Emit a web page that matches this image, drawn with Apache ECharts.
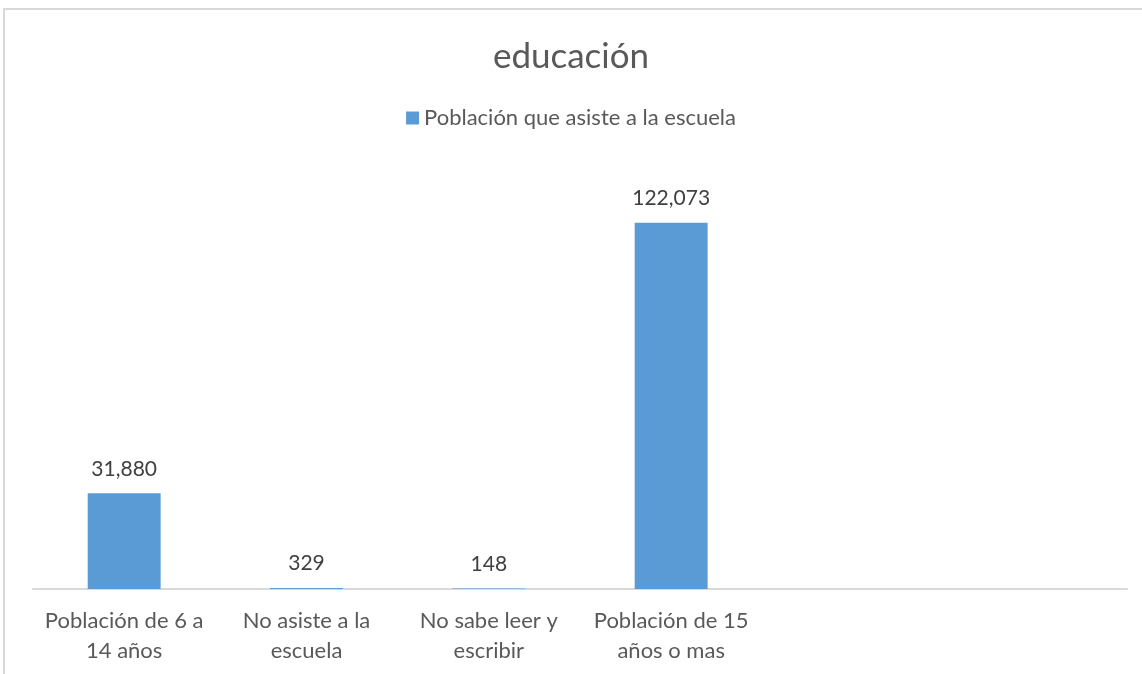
<!DOCTYPE html>
<html><head><meta charset="utf-8">
<script src="https://cdn.jsdelivr.net/npm/echarts@6/dist/echarts.min.js"></script>
<style>
html,body{margin:0;padding:0;background:#fff;}
#frame{position:absolute;left:3px;top:8px;width:1200px;height:700px;border-left:2px solid #d9d9d9;border-top:2px solid #d9d9d9;}
#chart{position:absolute;left:0;top:0;width:1142px;height:674px;}
</style></head>
<body>
<div id="frame"></div>
<div id="chart"></div>
<script>
const title = 'educación';
const seriesName = 'Población que asiste a la escuela';
const categories = ['Población de 6 a\n14 años', 'No asiste a la\nescuela', 'No sabe leer y\nescribir', 'Población de 15\naños o mas', '', ''];
const values = [31880, 329, 148, 122073, null, null];
const yMax = 140000;

const font = 'Lato, "Open Sans", sans-serif';
const chart = echarts.init(document.getElementById('chart'), null, {renderer: 'canvas'});
chart.setOption({
  animation: false,
  backgroundColor: 'transparent',
  title: {
    text: title, left: 'center', top: 34,
    textStyle: {fontFamily: font, fontSize: 35, fontWeight: 'normal', color: '#595959'}
  },
  legend: {
    top: 102, left: 'center', itemWidth: 13, itemHeight: 13, itemGap: 8,
    icon: 'rect',
    textStyle: {fontFamily: font, fontSize: 22, color: '#595959'},
    data: [seriesName]
  },
  grid: {left: 33, right: 15, top: 169, bottom: 85, containLabel: false},
  xAxis: {
    type: 'category', data: categories,
    axisLine: {lineStyle: {color: '#d9d9d9', width: 2}},
    axisTick: {show: false},
    axisLabel: {interval: 0, fontFamily: font, fontSize: 22, color: '#595959', lineHeight: 30, margin: 17}
  },
  yAxis: {type: 'value', min: 0, max: yMax, show: false, splitLine: {show: false}},
  series: [{
    name: seriesName, type: 'bar', data: values, barWidth: '40%',
    itemStyle: {color: '#5b9bd5'},
    label: {
      show: true, position: 'top', distance: 14,
      fontFamily: font, fontSize: 21, color: '#404040',
      formatter: p => p.value == null ? '' : p.value.toLocaleString('en-US')
    }
  }]
});
</script>
</body></html>
